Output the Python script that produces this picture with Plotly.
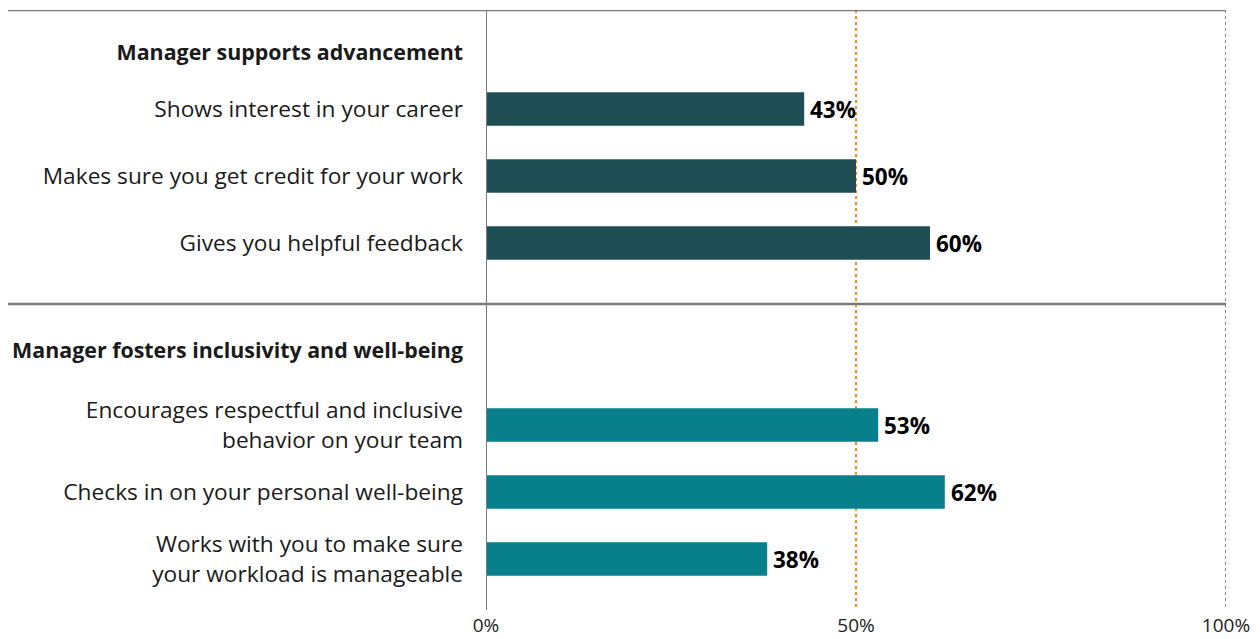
import plotly.graph_objects as go

# ---- data ----
group_titles = ["Manager supports advancement", "Manager fosters inclusivity and well-being"]
group1_labels = ["Shows interest in your career",
                 "Makes sure you get credit for your work",
                 "Gives you helpful feedback"]
group1_values = [43, 50, 60]
group2_labels = ["Encourages respectful and inclusive<br>behavior on your team",
                 "Checks in on your personal well-being",
                 "Works with you to make sure<br>your workload is manageable"]
group2_values = [53, 62, 38]
x_tickvals = [0, 50, 100]
x_ticktext = ["0%", "50%", "100%"]

# ---- style / layout ----
FONT = "Open Sans"
C1 = "#1f4f55"
C2 = "#08808c"
LINE = "#7a7a7a"
TXT = "#1a1a1a"

# row positions (units of one bar pitch), reversed axis
g1_start, g1_head = 1.478, 0.627
g2_start, g2_head = 6.194, 5.075
sep_pos = 4.388
y_max = 8.955

y1 = [g1_start + i for i in range(len(group1_values))]
y2 = [g2_start + i for i in range(len(group2_values))]

fig = go.Figure()
fig.add_trace(go.Bar(x=group1_values, y=y1, orientation="h", width=0.5,
                     marker=dict(color=C1, line=dict(width=0)), hoverinfo="skip"))
fig.add_trace(go.Bar(x=group2_values, y=y2, orientation="h", width=0.5,
                     marker=dict(color=C2, line=dict(width=0)), hoverinfo="skip"))

for v, y in zip(group1_values + group2_values, y1 + y2):
    fig.add_annotation(x=v, y=y, text=f"<b>{v}%</b>", showarrow=False,
                       xanchor="left", yanchor="middle", xshift=4,
                       font=dict(family=FONT, size=22.5, color="#000000"))

def header(t):
    return f"<span style='font-size:21.4px'><b>{t}</b></span>"

tickvals = [g1_head] + y1 + [g2_head] + y2
ticktext = [header(group_titles[0])] + group1_labels + [header(group_titles[1])] + group2_labels

shapes = [
    dict(type="line", xref="x", yref="y", x0=50, x1=50, y0=0, y1=y_max,
         line=dict(color="#f0902a", width=2, dash="dot"), layer="below"),
    dict(type="line", xref="x", yref="y", x0=100, x1=100, y0=0, y1=y_max,
         line=dict(color="#8a8a8a", width=2, dash="dot"), layer="below"),
    dict(type="line", xref="paper", yref="y", x0=-0.646, x1=1.0, y0=0, y1=0,
         line=dict(color=LINE, width=2.5)),
    dict(type="line", xref="paper", yref="y", x0=-0.646, x1=1.0, y0=sep_pos, y1=sep_pos,
         line=dict(color=LINE, width=2.5)),
    dict(type="line", xref="x", yref="y", x0=0, x1=0, y0=0, y1=y_max,
         line=dict(color=LINE, width=2)),
]

fig.update_layout(
    width=1260, height=639,
    margin=dict(l=486, r=34, t=10, b=29),
    plot_bgcolor="white", paper_bgcolor="white",
    showlegend=False, barmode="overlay",
    font=dict(family=FONT, color=TXT),
    shapes=shapes,
    xaxis=dict(range=[0, 100], tickvals=x_tickvals, ticktext=x_ticktext,
               showgrid=False, zeroline=False, showline=False, ticks="",
               automargin=False,
               tickfont=dict(family=FONT, size=19, color="#222222"),
               ticklabelstandoff=2),
    yaxis=dict(range=[y_max, 0], tickvals=tickvals, ticktext=ticktext,
               showgrid=False, zeroline=False, showline=False, ticks="",
               automargin=False,
               tickfont=dict(family=FONT, size=22.7, color=TXT),
               ticklabelstandoff=22),
)

fig.write_html("out.html", config={"displayModeBar": False},
               post_script="document.body.style.margin='0px';document.body.style.padding='0px';")
